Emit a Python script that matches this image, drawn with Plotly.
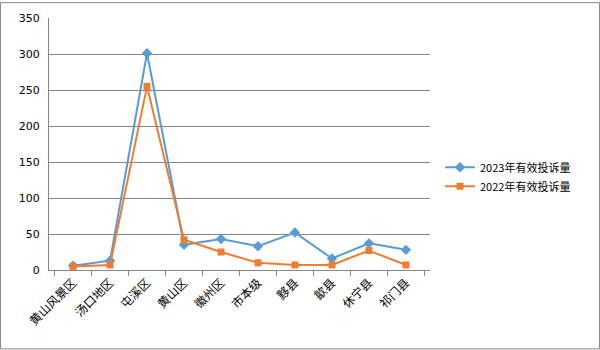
import plotly.graph_objects as go

categories = ["黄山风景区", "汤口地区", "屯溪区", "黄山区", "徽州区", "市本级", "黟县", "歙县", "休宁县", "祁门县"]
v2023 = [6, 13, 301, 35, 43, 33, 52, 16, 37, 28]
v2022 = [5, 7, 255, 42, 25, 10, 7, 7, 27, 7]
yticks = [0, 50, 100, 150, 200, 250, 300, 350]

W, H = 600, 350
L, R, T, B = 49, 170, 16, 80
pw, ph = W - L - R, H - T - B

fig = go.Figure()
fig.add_trace(go.Scatter(x=categories, y=v2023, name="2023年有效投诉量", mode="lines+markers",
                         line=dict(color="#5B9BD5", width=2),
                         marker=dict(symbol="diamond", size=8, color="#5B9BD5")))
fig.add_trace(go.Scatter(x=categories, y=v2022, name="2022年有效投诉量", mode="lines+markers",
                         line=dict(color="#ED7D31", width=2),
                         marker=dict(symbol="square", size=7, color="#ED7D31")))

fig.update_layout(
    width=W, height=H,
    margin=dict(l=L, r=R, t=T, b=B, pad=0),
    paper_bgcolor="white", plot_bgcolor="white",
    font=dict(family="Noto Sans CJK SC, DejaVu Sans", size=11, color="#000000"),
    showlegend=True,
    legend=dict(x=(440 - L) / pw, xanchor="left", y=(H - B - 176) / ph, yanchor="middle",
                font=dict(size=11), bgcolor="rgba(0,0,0,0)", tracegroupgap=4),
    xaxis=dict(type="category", tickson="boundaries", ticks="outside", ticklen=5,
               tickcolor="#868686", showline=True, linecolor="#868686", linewidth=1,
               showgrid=False, tickangle=-45, tickfont=dict(size=12), fixedrange=True),
    yaxis=dict(range=[0, 350], tickvals=yticks, showgrid=True, gridcolor="#868686", gridwidth=1,
               showline=True, linecolor="#868686", linewidth=1, zeroline=False,
               ticks="", tickfont=dict(size=11, family="DejaVu Sans"), ticklabelstandoff=6),
)
fig.add_shape(type="rect", xref="paper", yref="paper",
              x0=(0.5 - L) / pw, x1=(W - 0.5 - L) / pw,
              y0=-(B - 0.5) / ph, y1=1 + (T - 0.5) / ph,
              line=dict(color="#898989", width=1), layer="below")

fig.write_html("out.html")
